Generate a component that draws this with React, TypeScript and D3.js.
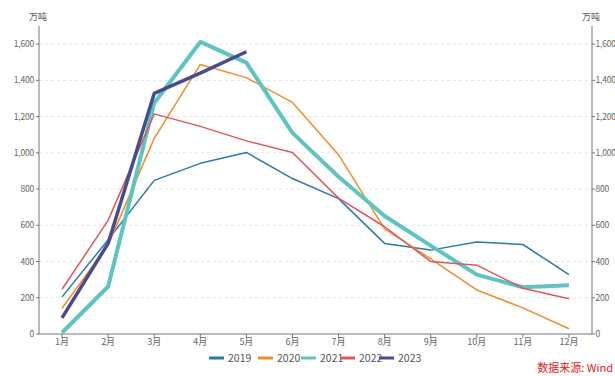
import React from "react";
import * as d3 from "d3";

const months = ["1月", "2月", "3月", "4月", "5月", "6月", "7月", "8月", "9月", "10月", "11月", "12月"];
const yTicks = [0, 200, 400, 600, 800, 1000, 1200, 1400, 1600];

const v2019 = [205, 520, 848, 942, 1002, 858, 747, 500, 463, 508, 494, 328];
const v2020 = [142, 492, 1080, 1488, 1415, 1278, 990, 580, 415, 243, 144, 29];
const v2021 = [7, 262, 1275, 1612, 1498, 1110, 868, 651, 488, 328, 258, 269];
const v2022 = [247, 627, 1215, 1146, 1066, 1002, 750, 592, 400, 380, 253, 194];
const v2023 = [89, 500, 1328, 1440, 1558];

const seriesNames = ["2019", "2020", "2021", "2022", "2023"];
const seriesValues = [v2019, v2020, v2021, v2022, v2023];
const seriesColors = ["#2b7aa6", "#f28c28", "#5ec4c0", "#e15759", "#464c8e"];
const seriesWidths = [1.5, 1.5, 4, 1.5, 3.5];

const W = 615;
const H = 376;
const left = 39;
const right = 592;
const top = 26;
const bottom = 334;
const font = "'Noto Sans CJK SC', 'Noto Sans', sans-serif";

export default function App() {
  const x = d3.scaleBand<string>().domain(months).range([left, right]);
  const cx = (m: string) => (x(m) ?? 0) + x.bandwidth() / 2;
  const y = d3.scaleLinear().domain([0, 1700]).range([bottom, top]);
  const fmt = d3.format(",");

  const line = d3
    .line<number>()
    .x((_, i) => cx(months[i]))
    .y((d) => y(d));

  const legendX = [209, 258, 301, 340, 379];

  return (
    <svg width={W} height={H} style={{ position: "absolute", left: 0, top: 0 }}>
      <rect width={W} height={H} fill="#fff" />
      {yTicks.slice(1).map((t) => (
        <line key={"g" + t} x1={left} x2={right} y1={y(t)} y2={y(t)} stroke="#e3e3e3" strokeDasharray="3,3" />
      ))}
      {/* axes */}
      <line x1={left} x2={left} y1={top} y2={bottom} stroke="#777" />
      <line x1={right} x2={right} y1={top} y2={bottom} stroke="#777" />
      <line x1={left} x2={right} y1={bottom} y2={bottom} stroke="#777" />
      {yTicks.map((t) => (
        <g key={"t" + t} fontFamily={font} fontSize={8.5} fill="#666" letterSpacing={-0.2}>
          <line x1={left - 3} x2={left} y1={y(t)} y2={y(t)} stroke="#777" />
          <text x={left - 5} y={y(t)} dy="0.35em" textAnchor="end">{fmt(t)}</text>
          <line x1={right} x2={right + 3} y1={y(t)} y2={y(t)} stroke="#777" />
          <text x={right + 3.5} y={y(t)} dy="0.35em" textAnchor="start">{fmt(t)}</text>
        </g>
      ))}
      {months.map((m) => (
        <g key={m} fontFamily={font} fontSize={9} fill="#666">
          <line x1={cx(m)} x2={cx(m)} y1={bottom} y2={bottom + 4} stroke="#777" />
          <text x={cx(m)} y={bottom + 11} textAnchor="middle">{m}</text>
        </g>
      ))}
      <text x={38} y={20} fontFamily={font} fontSize={9} fill="#555" textAnchor="middle">万吨</text>
      <text x={591} y={20} fontFamily={font} fontSize={9} fill="#555" textAnchor="middle">万吨</text>
      {seriesValues.map((vals, i) => (
        <path
          key={seriesNames[i]}
          d={line(vals) ?? ""}
          fill="none"
          stroke={seriesColors[i]}
          strokeWidth={seriesWidths[i]}
          strokeLinejoin="round"
        />
      ))}
      {seriesNames.map((n, i) => (
        <g key={"l" + n} fontFamily={font} fontSize={10.5} fill="#555">
          <line x1={legendX[i]} x2={legendX[i] + 15} y1={358} y2={358} stroke={seriesColors[i]} strokeWidth={3} />
          <text x={legendX[i] + 19} y={358} dy="0.35em">{n}</text>
        </g>
      ))}
      <text x={613} y={372} fontFamily={font} fontSize={11} fill="#e02020" textAnchor="end">数据来源: Wind</text>
    </svg>
  );
}
